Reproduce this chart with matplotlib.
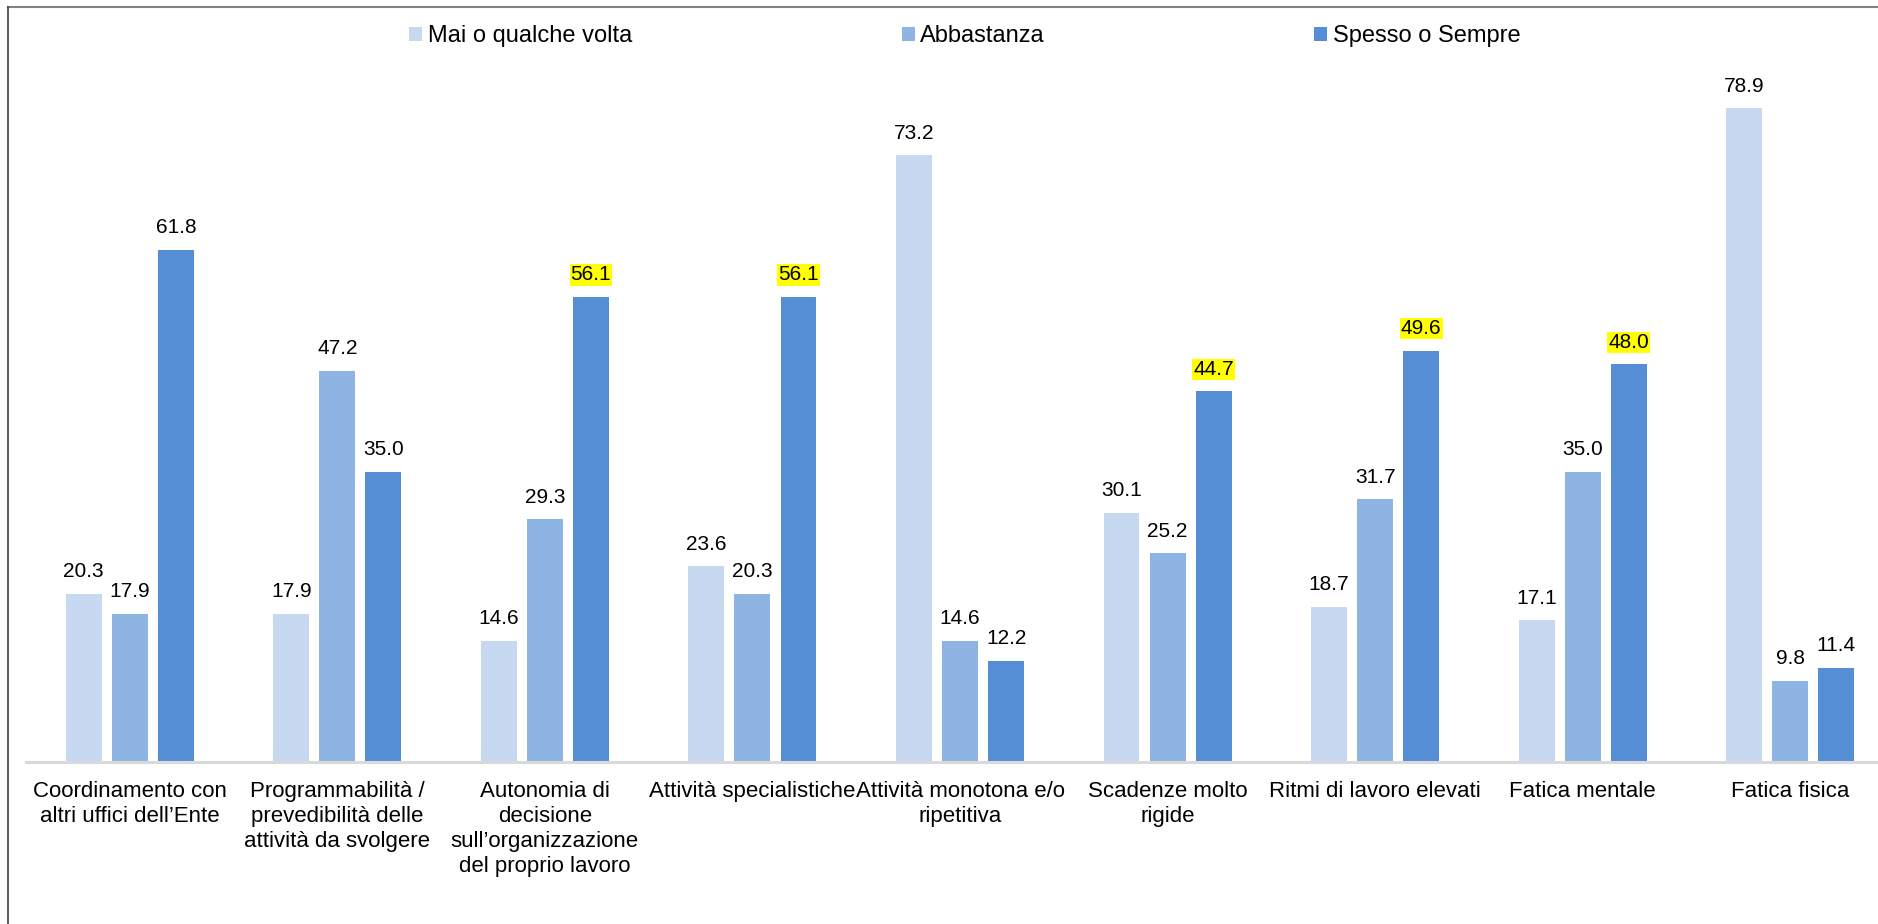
import numpy as np
import matplotlib.pyplot as plt
from matplotlib.lines import Line2D

plt.rcParams['font.family'] = ['Liberation Sans', 'DejaVu Sans']

categories = [
    'Coordinamento con\naltri uffici dell\u2019Ente',
    'Programmabilit\u00e0 /\nprevedibilit\u00e0 delle\nattivit\u00e0 da svolgere',
    'Autonomia di\ndecisione\nsull\u2019organizzazione\ndel proprio lavoro',
    'Attivit\u00e0 specialistiche',
    'Attivit\u00e0 monotona e/o\nripetitiva',
    'Scadenze molto\nrigide',
    'Ritmi di lavoro elevati',
    'Fatica mentale',
    'Fatica fisica',
]
series_names = ['Mai o qualche volta', 'Abbastanza', 'Spesso o Sempre']
mai = [20.3, 17.9, 14.6, 23.6, 73.2, 30.1, 18.7, 17.1, 78.9]
abbastanza = [17.9, 47.2, 29.3, 20.3, 14.6, 25.2, 31.7, 35.0, 9.8]
spesso = [61.8, 35.0, 56.1, 56.1, 12.2, 44.7, 49.6, 48.0, 11.4]
# which "Spesso o Sempre" labels are highlighted in yellow
highlight = [False, False, True, True, False, True, True, True, False]

colors = ['#C6D9F1', '#8EB4E3', '#558ED5']

W, H = 1878, 924
fig = plt.figure(figsize=(W / 100, H / 100), dpi=100)
# axes runs past the right edge, as in the cropped original
ax = fig.add_axes([26 / W, 1 - 762 / H, 1868 / W, 746 / H])

x = np.arange(len(categories))
width = 0.173
step = 0.222
values = [mai, abbastanza, spesso]
bars = []
for i, (vals, name, col) in enumerate(zip(values, series_names, colors)):
    b = ax.bar(x + (i - 1) * step, vals, width, color=col, label=name, zorder=2)
    bars.append(b)
    for j, rect in enumerate(b):
        hl = (i == 2 and highlight[j])
        ax.annotate(f'{vals[j]:.1f}',
                    (rect.get_x() + rect.get_width() / 2, rect.get_height()),
                    xytext=(0, 9), textcoords='offset points',
                    ha='center', va='bottom', fontsize=15, color='black',
                    bbox=dict(boxstyle='square,pad=0.05', fc='#FFFF00', ec='none') if hl else None)

ax.set_xlim(-0.5, len(categories) - 0.5)
ax.set_ylim(0, 90)
ax.set_yticks([])
ax.set_xticks(x)
ax.set_xticklabels(categories, fontsize=16, linespacing=1.25)
ax.tick_params(axis='x', length=0, pad=14)
for s in ['top', 'right', 'left']:
    ax.spines[s].set_visible(False)
ax.spines['bottom'].set_color('#D9D9D9')
ax.spines['bottom'].set_linewidth(2.2)

fig.legend(handles=bars, labels=series_names, loc='center',
           bbox_to_anchor=(965 / W, 1 - 36 / H), ncol=3, frameon=False,
           fontsize=17, handlelength=0.55, handleheight=0.55,
           handletextpad=0.25, columnspacing=11.4, borderpad=0)

# outer border of the original chart area
fig.add_artist(Line2D([8 / W, 1], [1 - 7 / H, 1 - 7 / H], color='#808080', lw=1.5))
fig.add_artist(Line2D([8 / W, 8 / W], [0, 1 - 7 / H], color='#404040', lw=1.2))

fig.savefig('out.png', dpi=100)
